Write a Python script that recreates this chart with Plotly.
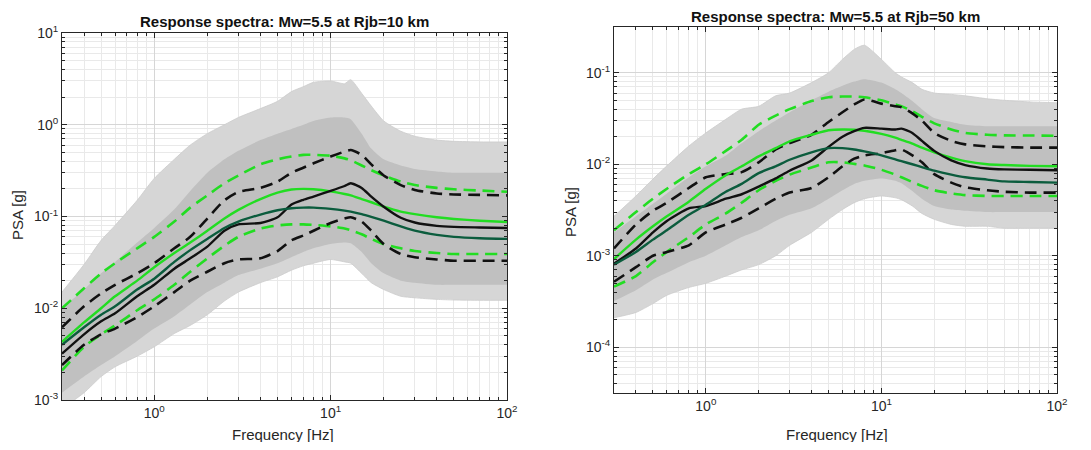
import plotly.graph_objects as go

# ---------------- data ----------------
freq = [0.3, 0.4, 0.5, 0.6, 0.8, 1.0, 1.3, 1.6, 2.0, 2.5, 3.0, 4.0, 5.0, 6.0, 7.0, 8.0,
        10, 12, 13, 15, 17, 20, 25, 30, 40, 50, 70, 100]

# Left panel: Mw=5.5 at Rjb=10 km
L_green_med = [0.0043, 0.0070, 0.0100, 0.0135, 0.020, 0.028, 0.040, 0.052, 0.070, 0.095, 0.118, 0.155,
               0.182, 0.197, 0.200, 0.198, 0.188, 0.176, 0.170, 0.155, 0.143, 0.128, 0.113, 0.106,
               0.098, 0.094, 0.090, 0.087]
L_green_hi = [0.0100, 0.0165, 0.024, 0.031, 0.045, 0.060, 0.088, 0.125, 0.17, 0.23, 0.28, 0.37, 0.42,
              0.45, 0.47, 0.47, 0.46, 0.43, 0.41, 0.36, 0.32, 0.28, 0.24, 0.22, 0.205, 0.198, 0.192, 0.186]
L_green_lo = [0.0021, 0.0038, 0.0052, 0.0065, 0.0095, 0.0125, 0.018, 0.025, 0.035, 0.048, 0.060, 0.074,
              0.080, 0.082, 0.082, 0.081, 0.078, 0.074, 0.071, 0.064, 0.057, 0.050, 0.045, 0.042,
              0.040, 0.039, 0.039, 0.039]
L_black_med = [0.0032, 0.0052, 0.0072, 0.0088, 0.0135, 0.018, 0.027, 0.035, 0.047, 0.070, 0.082, 0.085,
               0.098, 0.135, 0.152, 0.165, 0.19, 0.215, 0.23, 0.205, 0.165, 0.128, 0.097, 0.086,
               0.079, 0.077, 0.076, 0.075]
L_black_hi = [0.0062, 0.0105, 0.0145, 0.018, 0.024, 0.031, 0.045, 0.060, 0.095, 0.15, 0.185, 0.205,
              0.24, 0.30, 0.34, 0.38, 0.45, 0.51, 0.53, 0.47, 0.37, 0.28, 0.22, 0.195, 0.178, 0.174,
              0.172, 0.170]
L_black_lo = [0.0024, 0.0040, 0.0052, 0.0060, 0.0080, 0.0105, 0.015, 0.020, 0.025, 0.031, 0.034, 0.035,
              0.042, 0.055, 0.062, 0.070, 0.085, 0.095, 0.098, 0.088, 0.070, 0.050, 0.039, 0.036,
              0.034, 0.033, 0.033, 0.033]
L_dark_med = [0.0040, 0.0062, 0.0085, 0.0105, 0.016, 0.021, 0.032, 0.043, 0.057, 0.075, 0.088, 0.105,
              0.117, 0.123, 0.125, 0.125, 0.121, 0.116, 0.113, 0.106, 0.099, 0.090, 0.078, 0.070,
              0.063, 0.060, 0.058, 0.057]
L_cloud_top = [0.015, 0.030, 0.055, 0.08, 0.15, 0.26, 0.42, 0.6, 0.8, 1.0, 1.2, 1.5, 1.8, 2.3, 2.6, 2.9,
               3.0, 2.8, 3.1, 2.2, 1.6, 1.1, 0.85, 0.75, 0.68, 0.66, 0.65, 0.65]
L_dense_top = [0.010, 0.016, 0.024, 0.032, 0.052, 0.075, 0.12, 0.19, 0.30, 0.42, 0.52, 0.68, 0.8, 0.9, 1.0,
               1.1, 1.2, 1.2, 1.15, 0.8, 0.55, 0.42, 0.36, 0.33, 0.31, 0.30, 0.30, 0.30]
L_dense_bot = [0.0012, 0.0018, 0.0024, 0.0030, 0.0044, 0.0060, 0.0082, 0.011, 0.015, 0.019, 0.023, 0.027,
               0.031, 0.036, 0.041, 0.045, 0.050, 0.052, 0.051, 0.041, 0.031, 0.024, 0.020, 0.019,
               0.018, 0.018, 0.018, 0.018]
L_cloud_bot = [0.0008, 0.0012, 0.0018, 0.0023, 0.003, 0.0038, 0.0053, 0.0065, 0.0085, 0.012, 0.015, 0.019,
               0.022, 0.026, 0.029, 0.031, 0.034, 0.032, 0.031, 0.024, 0.019, 0.016, 0.0135, 0.013,
               0.0125, 0.0123, 0.0122, 0.0122]

# Right panel: Mw=5.5 at Rjb=50 km
R_green_med = [0.00092, 0.0015, 0.0021, 0.0027, 0.0039, 0.0054, 0.0076, 0.0095, 0.0122, 0.0150, 0.0178,
               0.021, 0.0235, 0.024, 0.0238, 0.0232, 0.0215, 0.0195, 0.0185, 0.0168, 0.0152, 0.0135,
               0.0118, 0.0108, 0.0100, 0.0098, 0.0096, 0.0095]
R_green_hi = [0.0019, 0.0030, 0.0042, 0.0054, 0.0078, 0.0100, 0.0140, 0.0185, 0.027, 0.034, 0.040, 0.049,
              0.054, 0.055, 0.055, 0.054, 0.050, 0.045, 0.043, 0.038, 0.033, 0.028, 0.024, 0.022,
              0.021, 0.0207, 0.0206, 0.0205]
R_green_lo = [0.00046, 0.0006, 0.00085, 0.0011, 0.0016, 0.0022, 0.0029, 0.0038, 0.0052, 0.0066, 0.0077,
              0.0092, 0.0105, 0.0105, 0.0101, 0.0097, 0.0087, 0.0077, 0.0072, 0.0064, 0.0058, 0.0052,
              0.0048, 0.0046, 0.0045, 0.0045, 0.0045, 0.0045]
R_black_med = [0.00082, 0.0012, 0.0018, 0.0024, 0.0033, 0.0035, 0.0042, 0.0047, 0.0057, 0.0070, 0.0085,
               0.011, 0.0155, 0.020, 0.023, 0.025, 0.0245, 0.024, 0.0245, 0.022, 0.018, 0.014, 0.011,
               0.0098, 0.0090, 0.0088, 0.0087, 0.0086]
R_black_hi = [0.0012, 0.0022, 0.0031, 0.0038, 0.0055, 0.0072, 0.0078, 0.0082, 0.0105, 0.0145, 0.017,
              0.021, 0.029, 0.037, 0.045, 0.051, 0.046, 0.043, 0.042, 0.036, 0.030, 0.022, 0.018,
              0.0165, 0.0157, 0.0154, 0.0152, 0.0152]
R_black_lo = [0.00052, 0.00075, 0.0010, 0.0011, 0.0013, 0.0018, 0.0022, 0.0026, 0.0033, 0.0042, 0.0049,
              0.0055, 0.0072, 0.0095, 0.0115, 0.0125, 0.0132, 0.0142, 0.0145, 0.0125, 0.0105, 0.0078,
              0.0063, 0.0056, 0.0052, 0.0050, 0.0049, 0.0049]
R_dark_med = [0.00080, 0.0011, 0.0015, 0.0019, 0.0028, 0.0036, 0.0050, 0.0061, 0.0080, 0.0095, 0.0112,
              0.0135, 0.0150, 0.0150, 0.0145, 0.0138, 0.0125, 0.0113, 0.0108, 0.0100, 0.0093, 0.0085,
              0.0077, 0.0072, 0.0068, 0.0065, 0.0064, 0.0063]
R_cloud_top = [0.0027, 0.0045, 0.0069, 0.0096, 0.0158, 0.022, 0.031, 0.040, 0.043, 0.056, 0.060, 0.078,
               0.10, 0.14, 0.18, 0.20, 0.14, 0.10, 0.09, 0.078, 0.066, 0.060, 0.058, 0.056, 0.052,
               0.050, 0.048, 0.047]
R_dense_top = [0.0018, 0.0027, 0.0037, 0.0048, 0.0072, 0.0095, 0.0125, 0.017, 0.023, 0.030, 0.037, 0.050,
               0.062, 0.072, 0.08, 0.085, 0.078, 0.066, 0.06, 0.049, 0.040, 0.032, 0.029, 0.027,
               0.026, 0.026, 0.026, 0.026]
R_dense_bot = [0.00032, 0.00042, 0.00055, 0.00065, 0.00085, 0.0010, 0.0013, 0.0016, 0.0019, 0.0024, 0.0028,
               0.0033, 0.0042, 0.0052, 0.0061, 0.0066, 0.0070, 0.0066, 0.0062, 0.0051, 0.0042, 0.0035,
               0.0032, 0.0031, 0.0030, 0.0030, 0.0030, 0.0030]
R_cloud_bot = [0.00021, 0.00024, 0.00030, 0.00037, 0.00045, 0.0005, 0.0006, 0.0007, 0.0008, 0.0010,
               0.0013, 0.0018, 0.0025, 0.0032, 0.0038, 0.0042, 0.0045, 0.0043, 0.0041, 0.0035, 0.0029,
               0.0025, 0.0022, 0.0021, 0.0021, 0.0020, 0.0020, 0.0020]

titles = ["Response spectra: Mw=5.5 at Rjb=10 km", "Response spectra: Mw=5.5 at Rjb=50 km"]
x_tick_vals = [1, 10, 100]
x_tick_text = ["10<sup>0</sup>", "10<sup>1</sup>", "10<sup>2</sup>"]
yL_tick_vals = [1e-3, 1e-2, 1e-1, 1, 10]
yL_tick_text = ["10<sup>-3</sup>", "10<sup>-2</sup>", "10<sup>-1</sup>", "10<sup>0</sup>", "10<sup>1</sup>"]
yR_tick_vals = [1e-4, 1e-3, 1e-2, 1e-1]
yR_tick_text = ["10<sup>-4</sup>", "10<sup>-3</sup>", "10<sup>-2</sup>", "10<sup>-1</sup>"]

# ---------------- styling ----------------
BRIGHT = "#22dd22"
DARK = "#0b5c3d"
BLACK = "#111111"
CLOUD_OUT = "#d6d6d6"
CLOUD_IN = "#c0c0c0"
DASH = "12px,7px"
FONT = "Liberation Sans, Arial, Helvetica, sans-serif"
AXC = "#262626"

fig = go.Figure()


def add_panel(xa, ya, top, dtop, dbot, bot, ghi, glo, bhi, blo, gmed, dmed, bmed):
    common = dict(xaxis=xa, yaxis=ya, showlegend=False, hoverinfo="skip")
    fig.add_trace(go.Scatter(x=freq, y=bot, mode="lines",
                             line=dict(width=0.8, color="#cccccc", shape="spline", smoothing=0.6), **common))
    fig.add_trace(go.Scatter(x=freq, y=top, mode="lines", fill="tonexty", fillcolor=CLOUD_OUT,
                             line=dict(width=0.8, color="#cccccc", shape="spline", smoothing=0.6), **common))
    fig.add_trace(go.Scatter(x=freq, y=dbot, mode="lines", line=dict(width=0, shape="spline", smoothing=0.6), **common))
    fig.add_trace(go.Scatter(x=freq, y=dtop, mode="lines", fill="tonexty", fillcolor=CLOUD_IN,
                             line=dict(width=0, shape="spline", smoothing=0.6), **common))
    for ys, col in [(ghi, BRIGHT), (glo, BRIGHT), (bhi, BLACK), (blo, BLACK)]:
        fig.add_trace(go.Scatter(x=freq, y=ys, mode="lines",
                                 line=dict(color=col, width=2.6, dash=DASH, shape="spline", smoothing=0.6), **common))
    for ys, col in [(gmed, BRIGHT), (bmed, BLACK), (dmed, DARK)]:
        fig.add_trace(go.Scatter(x=freq, y=ys, mode="lines",
                                 line=dict(color=col, width=2.4, shape="spline", smoothing=0.6), **common))


add_panel("x", "y", L_cloud_top, L_dense_top, L_dense_bot, L_cloud_bot, L_green_hi, L_green_lo,
          L_black_hi, L_black_lo, L_green_med, L_dark_med, L_black_med)
add_panel("x2", "y2", R_cloud_top, R_dense_top, R_dense_bot, R_cloud_bot, R_green_hi, R_green_lo,
          R_black_hi, R_black_lo, R_green_med, R_dark_med, R_black_med)

minor_x = [0.3, 0.4, 0.5, 0.6, 0.7, 0.8, 0.9, 2, 3, 4, 5, 6, 7, 8, 9, 20, 30, 40, 50, 60, 70, 80, 90]
minor_yL = [m * 10 ** e for e in range(-3, 1) for m in range(2, 10)]
minor_yR = [m * 10 ** e for e in range(-5, -1) for m in range(2, 10)]


def axis(domain, rng, tv, tt, minor_vals, anchor):
    return dict(type="log", domain=domain, range=rng, anchor=anchor, automargin=False,
                tickmode="array", tickvals=tv, ticktext=tt,
                ticks="inside", ticklen=5, tickcolor=AXC, tickwidth=1,
                showline=True, linecolor=AXC, linewidth=1, mirror="allticks",
                showgrid=True, gridcolor="#d6d6d6", gridwidth=1, zeroline=False,
                tickfont=dict(family=FONT, size=14, color=AXC),
                minor=dict(tickmode="array", tickvals=minor_vals, ticks="inside", ticklen=3,
                           tickcolor=AXC, showgrid=True, gridcolor="#e9e9e9", gridwidth=1))


# The page body has an 8 px margin: the figure is sized to fit inside it and all
# positions below are page pixels minus that offset.
OFF = 8
W, H = 1091 - 2 * OFF, 450 - 2 * OFF


def fx(px):
    return (px - OFF) / W


def fy(py):
    return 1 - (py - OFF) / H


xL = [fx(62), fx(507)]
xR = [fx(614), fx(1057)]
yL = [fy(400), fy(33)]
yR = [fy(393), fy(27)]

fig.update_layout(
    width=W, height=H, margin=dict(l=0, r=0, t=0, b=0, autoexpand=False),
    paper_bgcolor="white", plot_bgcolor="white",
    font=dict(family=FONT, color=AXC),
    xaxis=axis(xL, [-0.5229, 2], x_tick_vals, x_tick_text, minor_x, "y"),
    yaxis=axis(yL, [-3, 1], yL_tick_vals, yL_tick_text, minor_yL, "x"),
    xaxis2=axis(xR, [-0.5229, 2], x_tick_vals, x_tick_text, minor_x, "y2"),
    yaxis2=axis(yR, [-4.5, -0.5], yR_tick_vals, yR_tick_text, minor_yR, "x2"),
)

ann = [
    dict(text="<b>" + titles[0] + "</b>", x=fx(284.5), y=fy(22), size=15, color="#111"),
    dict(text="<b>" + titles[1] + "</b>", x=fx(835.5), y=fy(16), size=15, color="#111"),
    dict(text="Frequency [Hz]", x=fx(283), y=fy(434), size=15, color=AXC),
    dict(text="Frequency [Hz]", x=fx(837), y=fy(434), size=15, color=AXC),
    dict(text="PSA [g]", x=fx(17), y=fy(215), size=15, color=AXC, textangle=-90),
    dict(text="PSA [g]", x=fx(571), y=fy(212), size=15, color=AXC, textangle=-90),
]
for a in ann:
    fig.add_annotation(xref="paper", yref="paper", showarrow=False, xanchor="center", yanchor="middle",
                       text=a["text"], x=a["x"], y=a["y"], textangle=a.get("textangle", 0),
                       font=dict(family=FONT, size=a["size"], color=a["color"]))

fig.write_html("out.html")
